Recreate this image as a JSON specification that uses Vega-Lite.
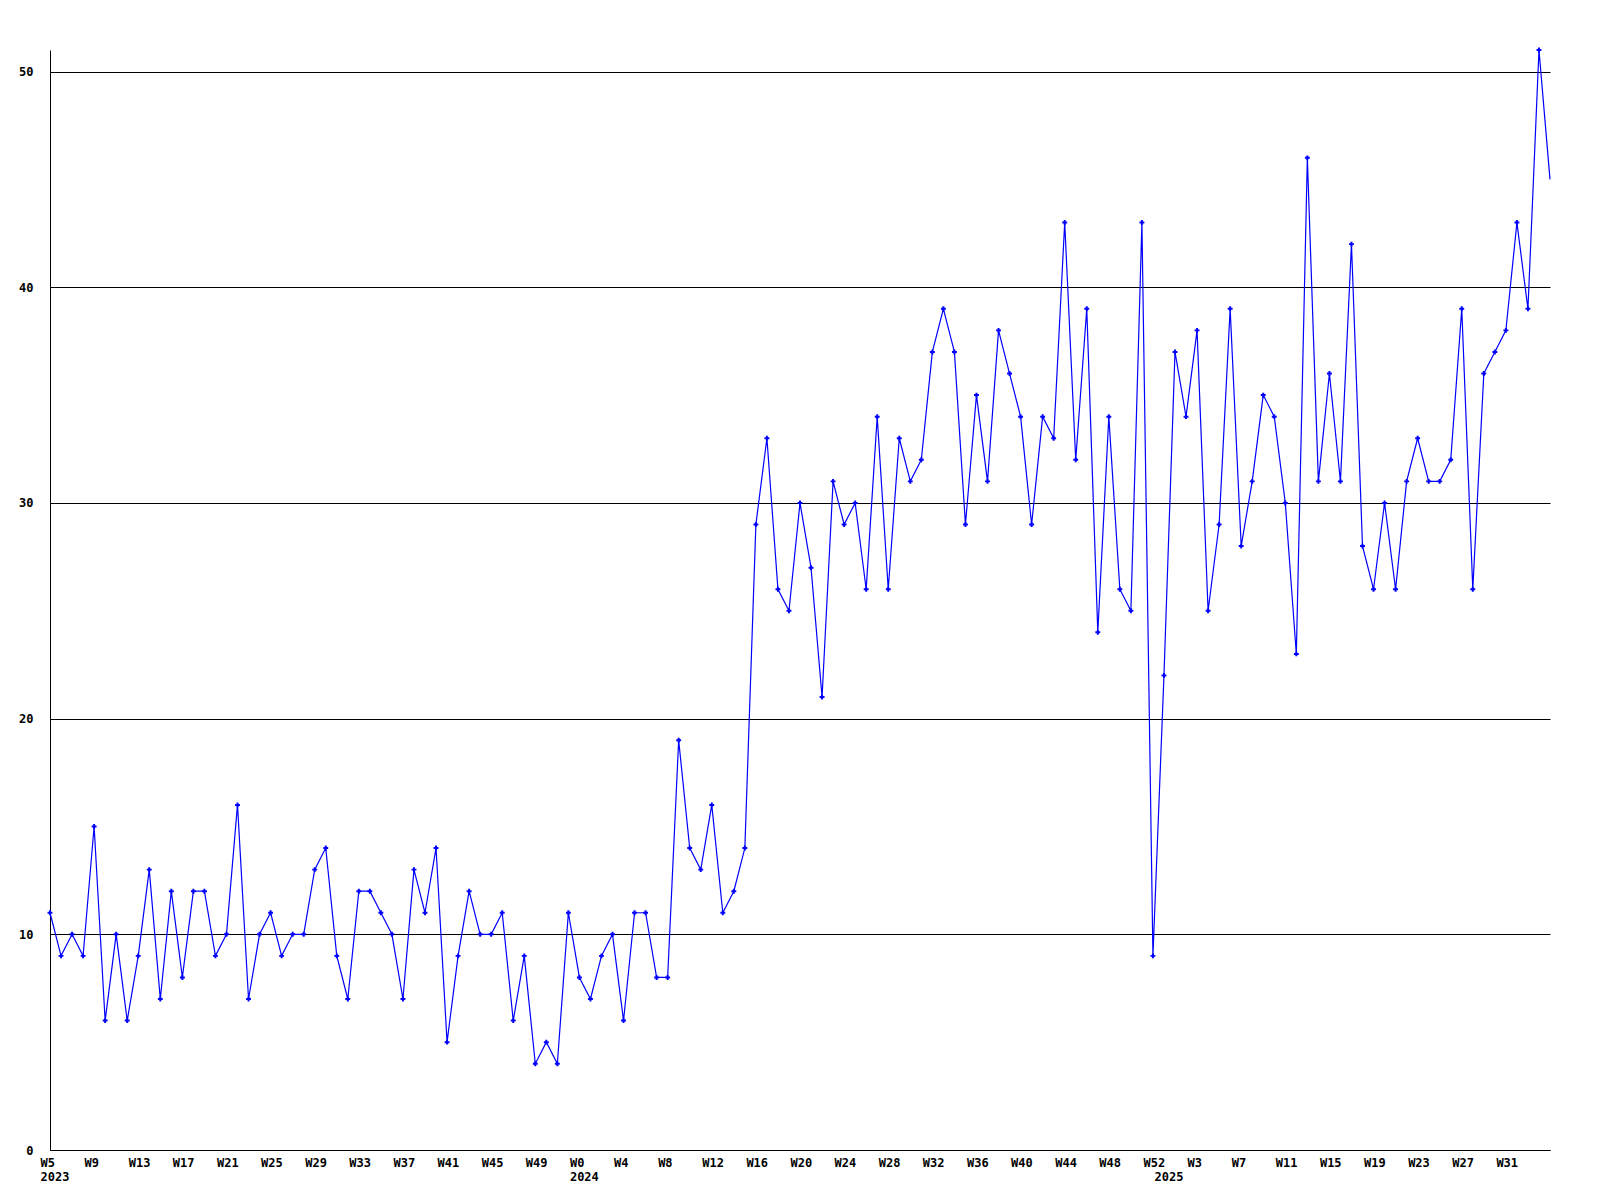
{
"$schema": "https://vega.github.io/schema/vega-lite/v6.json",
"width": 1500, "height": 1100, "autosize": "none",
"padding": {"left": 50, "top": 50, "right": 50, "bottom": 50},
"background": "white",
"config": {"view": {"stroke": null}, "axis": {"labelFont": "DejaVu Sans Mono", "labelFontSize": 12, "labelFontWeight": "bold", "labelColor": "black"}},
"data": {"values": [
{"i":0,"year":2023,"week":5,"value":11},{"i":1,"year":2023,"week":6,"value":9},{"i":2,"year":2023,"week":7,"value":10},{"i":3,"year":2023,"week":8,"value":9},{"i":4,"year":2023,"week":9,"value":15},{"i":5,"year":2023,"week":10,"value":6},{"i":6,"year":2023,"week":11,"value":10},{"i":7,"year":2023,"week":12,"value":6},{"i":8,"year":2023,"week":13,"value":9},{"i":9,"year":2023,"week":14,"value":13},{"i":10,"year":2023,"week":15,"value":7},{"i":11,"year":2023,"week":16,"value":12},{"i":12,"year":2023,"week":17,"value":8},{"i":13,"year":2023,"week":18,"value":12},{"i":14,"year":2023,"week":19,"value":12},{"i":15,"year":2023,"week":20,"value":9},{"i":16,"year":2023,"week":21,"value":10},{"i":17,"year":2023,"week":22,"value":16},{"i":18,"year":2023,"week":23,"value":7},{"i":19,"year":2023,"week":24,"value":10},{"i":20,"year":2023,"week":25,"value":11},{"i":21,"year":2023,"week":26,"value":9},{"i":22,"year":2023,"week":27,"value":10},{"i":23,"year":2023,"week":28,"value":10},{"i":24,"year":2023,"week":29,"value":13},{"i":25,"year":2023,"week":30,"value":14},{"i":26,"year":2023,"week":31,"value":9},{"i":27,"year":2023,"week":32,"value":7},{"i":28,"year":2023,"week":33,"value":12},{"i":29,"year":2023,"week":34,"value":12},{"i":30,"year":2023,"week":35,"value":11},{"i":31,"year":2023,"week":36,"value":10},{"i":32,"year":2023,"week":37,"value":7},{"i":33,"year":2023,"week":38,"value":13},{"i":34,"year":2023,"week":39,"value":11},{"i":35,"year":2023,"week":40,"value":14},{"i":36,"year":2023,"week":41,"value":5},{"i":37,"year":2023,"week":42,"value":9},{"i":38,"year":2023,"week":43,"value":12},{"i":39,"year":2023,"week":44,"value":10},{"i":40,"year":2023,"week":45,"value":10},{"i":41,"year":2023,"week":46,"value":11},{"i":42,"year":2023,"week":47,"value":6},{"i":43,"year":2023,"week":48,"value":9},{"i":44,"year":2023,"week":49,"value":4},{"i":45,"year":2023,"week":50,"value":5},{"i":46,"year":2023,"week":51,"value":4},{"i":47,"year":2023,"week":52,"value":11},
{"i":48,"year":2024,"week":0,"value":8},{"i":49,"year":2024,"week":1,"value":7},{"i":50,"year":2024,"week":2,"value":9},{"i":51,"year":2024,"week":3,"value":10},{"i":52,"year":2024,"week":4,"value":6},{"i":53,"year":2024,"week":5,"value":11},{"i":54,"year":2024,"week":6,"value":11},{"i":55,"year":2024,"week":7,"value":8},{"i":56,"year":2024,"week":8,"value":8},{"i":57,"year":2024,"week":9,"value":19},{"i":58,"year":2024,"week":10,"value":14},{"i":59,"year":2024,"week":11,"value":13},{"i":60,"year":2024,"week":12,"value":16},{"i":61,"year":2024,"week":13,"value":11},{"i":62,"year":2024,"week":14,"value":12},{"i":63,"year":2024,"week":15,"value":14},{"i":64,"year":2024,"week":16,"value":29},{"i":65,"year":2024,"week":17,"value":33},{"i":66,"year":2024,"week":18,"value":26},{"i":67,"year":2024,"week":19,"value":25},{"i":68,"year":2024,"week":20,"value":30},{"i":69,"year":2024,"week":21,"value":27},{"i":70,"year":2024,"week":22,"value":21},{"i":71,"year":2024,"week":23,"value":31},{"i":72,"year":2024,"week":24,"value":29},{"i":73,"year":2024,"week":25,"value":30},{"i":74,"year":2024,"week":26,"value":26},{"i":75,"year":2024,"week":27,"value":34},{"i":76,"year":2024,"week":28,"value":26},{"i":77,"year":2024,"week":29,"value":33},{"i":78,"year":2024,"week":30,"value":31},{"i":79,"year":2024,"week":31,"value":32},{"i":80,"year":2024,"week":32,"value":37},{"i":81,"year":2024,"week":33,"value":39},{"i":82,"year":2024,"week":34,"value":37},{"i":83,"year":2024,"week":35,"value":29},{"i":84,"year":2024,"week":36,"value":35},{"i":85,"year":2024,"week":37,"value":31},{"i":86,"year":2024,"week":38,"value":38},{"i":87,"year":2024,"week":39,"value":36},{"i":88,"year":2024,"week":40,"value":34},{"i":89,"year":2024,"week":41,"value":29},{"i":90,"year":2024,"week":42,"value":34},{"i":91,"year":2024,"week":43,"value":33},{"i":92,"year":2024,"week":44,"value":43},{"i":93,"year":2024,"week":45,"value":32},{"i":94,"year":2024,"week":46,"value":39},{"i":95,"year":2024,"week":47,"value":24},{"i":96,"year":2024,"week":48,"value":34},{"i":97,"year":2024,"week":49,"value":26},{"i":98,"year":2024,"week":50,"value":25},{"i":99,"year":2024,"week":51,"value":43},{"i":100,"year":2024,"week":52,"value":9},
{"i":101,"year":2025,"week":0,"value":22},{"i":102,"year":2025,"week":1,"value":37},{"i":103,"year":2025,"week":2,"value":34},{"i":104,"year":2025,"week":3,"value":38},{"i":105,"year":2025,"week":4,"value":25},{"i":106,"year":2025,"week":5,"value":29},{"i":107,"year":2025,"week":6,"value":39},{"i":108,"year":2025,"week":7,"value":28},{"i":109,"year":2025,"week":8,"value":31},{"i":110,"year":2025,"week":9,"value":35},{"i":111,"year":2025,"week":10,"value":34},{"i":112,"year":2025,"week":11,"value":30},{"i":113,"year":2025,"week":12,"value":23},{"i":114,"year":2025,"week":13,"value":46},{"i":115,"year":2025,"week":14,"value":31},{"i":116,"year":2025,"week":15,"value":36},{"i":117,"year":2025,"week":16,"value":31},{"i":118,"year":2025,"week":17,"value":42},{"i":119,"year":2025,"week":18,"value":28},{"i":120,"year":2025,"week":19,"value":26},{"i":121,"year":2025,"week":20,"value":30},{"i":122,"year":2025,"week":21,"value":26},{"i":123,"year":2025,"week":22,"value":31},{"i":124,"year":2025,"week":23,"value":33},{"i":125,"year":2025,"week":24,"value":31},{"i":126,"year":2025,"week":25,"value":31},{"i":127,"year":2025,"week":26,"value":32},{"i":128,"year":2025,"week":27,"value":39},{"i":129,"year":2025,"week":28,"value":26},{"i":130,"year":2025,"week":29,"value":36},{"i":131,"year":2025,"week":30,"value":37},{"i":132,"year":2025,"week":31,"value":38},{"i":133,"year":2025,"week":32,"value":43},{"i":134,"year":2025,"week":33,"value":39},{"i":135,"year":2025,"week":34,"value":51},{"i":136,"year":2025,"week":35,"value":45}
]},
"layer": [
{"mark": {"type": "line", "color": "#0000ff", "strokeWidth": 1.2},
 "encoding": {
  "x": {"field": "i", "type": "quantitative", "scale": {"domain": [0, 136], "nice": false, "zero": false},
   "axis": {"title": null, "values": [0,4,8,12,16,20,24,28,32,36,40,44,48,52,56,60,64,68,72,76,80,84,88,92,96,100,101,104,108,112,116,120,124,128,132],
    "ticks": false, "grid": false, "domainColor": "black", "domainWidth": 1, "labelAlign": "left", "labelOffset": -10, "labelPadding": 7,
    "labelFlush": false, "labelOverlap": false, "labelBound": false, "labelBaseline": "top", "labelLineHeight": 14.5,
    "labelExpr": "datum.value == 0 ? ['W5','2023'] : datum.value == 48 ? ['W0','2024'] : datum.value == 101 ? [' ','2025'] : 'W' + (datum.value < 48 ? datum.value + 5 : datum.value <= 100 ? datum.value - 48 : datum.value - 101)"}},
  "y": {"field": "value", "type": "quantitative", "scale": {"domain": [0, 51], "nice": false},
   "axis": {"title": null, "values": [0,10,20,30,40,50], "ticks": false, "grid": true, "gridColor": "black", "gridOpacity": 1, "gridWidth": 1,
    "domainColor": "black", "domainWidth": 1, "labelPadding": 17, "labelBaseline": "middle"}}
 }},
{"transform": [{"filter": "datum.i < 136"}],
 "mark": {"type": "point", "shape": "cross", "filled": true, "size": 24, "color": "#0000ff", "opacity": 1},
 "encoding": {
  "x": {"field": "i", "type": "quantitative"},
  "y": {"field": "value", "type": "quantitative"}
 }}
]
}
